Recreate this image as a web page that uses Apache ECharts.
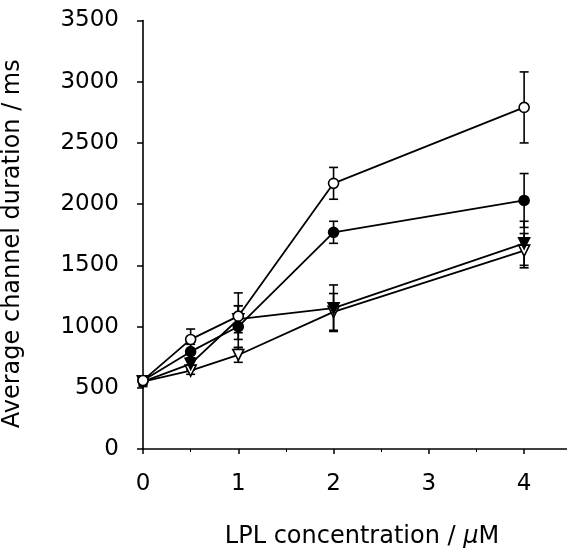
<!DOCTYPE html>
<html>
<head>
<meta charset="utf-8">
<script src="https://cdn.jsdelivr.net/npm/echarts@6/dist/echarts.min.js"></script>
<style>
  html, body { margin: 0; padding: 0; background: #fff; }
  #chart { width: 567px; height: 550px; }
</style>
</head>
<body>
<div id="chart"></div>
<script>
// LPL concentration (uM)
var concentration = [0, 0.5, 1, 2, 4];

// average channel duration (ms) and error bars
var openCircle = [560, 895, 1085, 2170, 2790];
var openCircleErr = [30, 85, 190, 130, 290];
var filledCircle = [560, 795, 1000, 1770, 2030];
var filledCircleErr = [30, 60, 170, 90, 220];
var filledTriangle = [550, 695, 1060, 1150, 1680];
var filledTriangleErr = [40, 50, 110, 190, 180];
var openTriangle = [550, 640, 768, 1120, 1620];
var openTriangleErr = [30, 30, 60, 150, 140];

var xTicks = [0, 1, 2, 3, 4];
var yTicks = [0, 500, 1000, 1500, 2000, 2500, 3000, 3500];

var font = '"DejaVu Sans", Verdana, sans-serif';

function pairs(vals) {
    return concentration.map(function (x, i) { return [x, vals[i]]; });
}
function errData(vals, errs) {
    return concentration.map(function (x, i) { return [x, vals[i] - errs[i], vals[i] + errs[i]]; });
}

function errorSeries(vals, errs) {
    return {
        type: 'custom',
        silent: true,
        z: 1,
        data: errData(vals, errs),
        renderItem: function (params, api) {
            var lo = api.coord([api.value(0), api.value(1)]);
            var hi = api.coord([api.value(0), api.value(2)]);
            var w = 4.5;
            var style = { stroke: '#000', lineWidth: 1.6 };
            return {
                type: 'group',
                children: [
                    { type: 'line', shape: { x1: lo[0], y1: lo[1], x2: hi[0], y2: hi[1] }, style: style },
                    { type: 'line', shape: { x1: lo[0] - w, y1: lo[1], x2: lo[0] + w, y2: lo[1] }, style: style },
                    { type: 'line', shape: { x1: hi[0] - w, y1: hi[1], x2: hi[0] + w, y2: hi[1] }, style: style }
                ]
            };
        }
    };
}

function lineSeries(vals, symbol, rotate, fill) {
    return {
        type: 'line',
        z: 3,
        data: pairs(vals),
        symbol: symbol,
        symbolSize: symbol === 'circle' ? 10 : 11,
        symbolRotate: rotate,
        showAllSymbol: true,
        lineStyle: { color: '#000', width: 1.8 },
        itemStyle: { color: fill, borderColor: '#000', borderWidth: 1.6 },
        animation: false
    };
}

var chart = echarts.init(document.getElementById('chart'));
chart.setOption({
    animation: false,
    backgroundColor: '#fff',
    grid: { left: 143, right: 0, top: 20.5, bottom: 101, containLabel: false, outerBoundsMode: 'none' },
    xAxis: {
        type: 'value',
        min: 0,
        max: 4.45,
        interval: 1,
        name: 'LPL concentration / {i|μ}M',
        nameLocation: 'middle',
        nameGap: 76,
        nameTextStyle: {
            color: '#000', fontSize: 24, fontFamily: font, padding: [0, 0, 0, 14],
            rich: { i: { fontStyle: 'italic', fontSize: 24, fontFamily: font, color: '#000' } }
        },
        axisLine: { show: true, lineStyle: { color: '#000', width: 1.6 } },
        axisTick: { show: true, customValues: xTicks, length: 5, lineStyle: { color: '#000', width: 1.5 } },
        minorTick: { show: true, splitNumber: 2, length: 3, lineStyle: { color: '#000', width: 1 } },
        axisLabel: { customValues: xTicks, color: '#000', fontSize: 23, fontFamily: font, margin: 24 },
        splitLine: { show: false }
    },
    yAxis: {
        type: 'value',
        min: 0,
        max: 3500,
        interval: 500,
        name: 'Average channel duration / ms',
        nameLocation: 'middle',
        nameGap: 118,
        nameTextStyle: { color: '#000', fontSize: 24, fontFamily: font, padding: [0, 18, 0, 0] },
        axisLine: { show: true, lineStyle: { color: '#000', width: 1.6 } },
        axisTick: { show: true, customValues: yTicks, length: 6, lineStyle: { color: '#000', width: 1.5 } },
        axisLabel: {
            customValues: yTicks, color: '#000', fontSize: 23, fontFamily: font, margin: 24,
            formatter: function (v) { return String(v); }
        },
        splitLine: { show: false }
    },
    series: [
        errorSeries(openTriangle, openTriangleErr),
        errorSeries(filledTriangle, filledTriangleErr),
        errorSeries(filledCircle, filledCircleErr),
        errorSeries(openCircle, openCircleErr),
        lineSeries(openTriangle, 'triangle', 180, '#fff'),
        lineSeries(filledTriangle, 'triangle', 180, '#000'),
        lineSeries(filledCircle, 'circle', 0, '#000'),
        lineSeries(openCircle, 'circle', 0, '#fff')
    ]
});
</script>
</body>
</html>
